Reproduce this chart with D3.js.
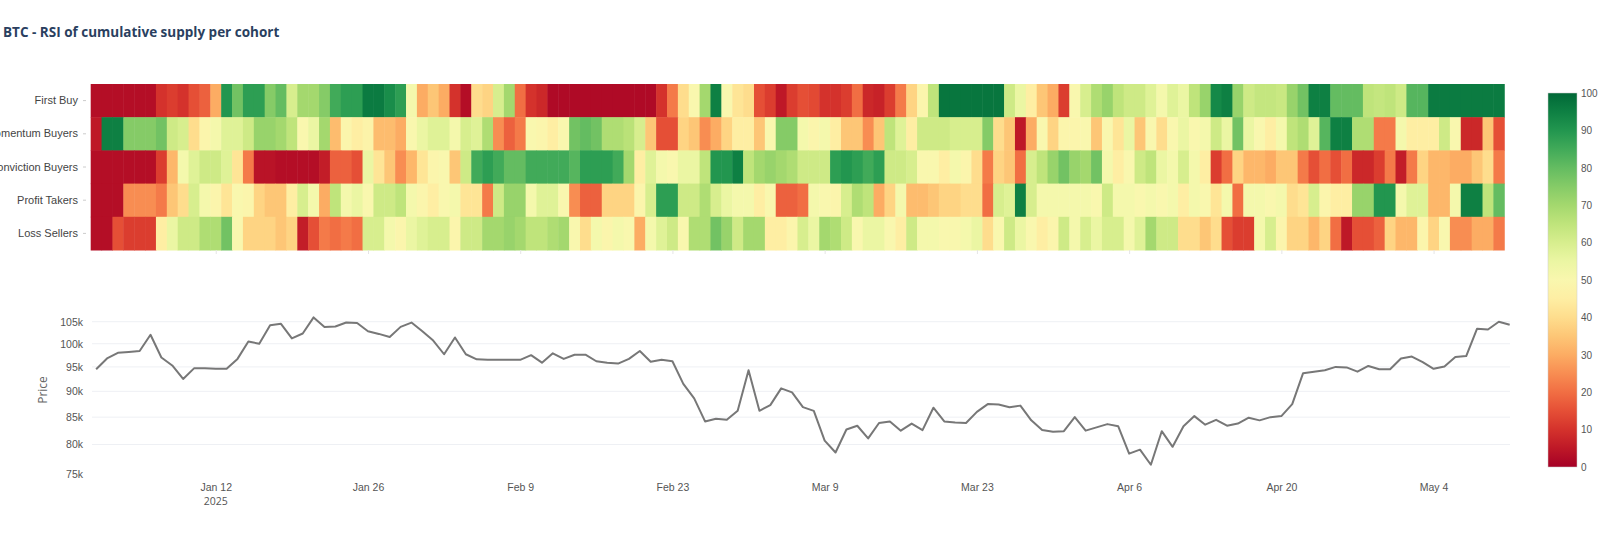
<!DOCTYPE html>
<html>
<head>
<meta charset="utf-8">
<script src="https://cdn.jsdelivr.net/npm/d3@7"></script>
<style>
  body { margin: 0; background: #fff; font-family: "Open Sans", "Liberation Sans", sans-serif; }
  svg text { fill: #555; }
</style>
</head>
<body>
<svg id="chart" width="1600" height="545"></svg>
<script>
// cohorts (top to bottom)
const cohorts = ['First Buy', 'Momentum Buyers', 'Conviction Buyers', 'Profit Takers', 'Loss Sellers'];

// RSI per cohort, one value per day from Jan 1 2025
const firstBuy = [3,3,3,3,3,3,10,12,10,15,18,30,90,78,88,88,75,80,60,70,70,75,85,88,88,96,96,92,88,52,30,35,
  30,10,3,40,38,60,70,20,10,8,2,2,2,2,2,2,2,2,2,2,10,22,40,50,70,95,50,42,40,15,12,5,12,
  15,14,10,10,12,20,8,7,12,22,38,48,65,97,97,97,97,97,97,62,55,45,35,30,12,50,60,68,72,65,62,62,
  58,52,58,55,65,72,93,95,72,62,64,64,63,72,78,95,95,80,80,80,65,64,65,62,82,82,96,
  96,96,96,96,96,96];
const momentumBuyers = [5,95,95,75,75,75,78,62,60,40,48,52,58,58,62,72,72,70,65,50,55,70,33,48,45,47,33,33,30,50,55,58,
  58,52,60,58,68,25,18,22,50,48,45,50,78,80,78,68,68,66,60,35,15,15,38,35,25,30,38,45,45,35,50,75,75,
  52,48,52,45,35,35,25,35,65,58,45,62,62,62,60,60,60,75,40,35,5,30,50,38,48,48,50,35,50,42,55,35,
  50,40,50,55,50,52,62,55,78,55,50,45,52,65,68,58,82,95,95,68,68,22,22,52,45,45,45,
  62,50,8,8,35,15];
const convictionBuyers = [3,3,3,3,3,3,12,32,52,58,62,62,58,42,22,4,4,3,3,3,3,6,18,18,15,55,42,35,25,32,42,48,
  50,35,62,85,88,85,80,80,85,85,85,85,82,88,88,88,85,70,45,58,52,50,55,55,65,90,90,95,65,70,72,70,68,
  62,62,62,88,90,88,85,88,62,62,60,50,50,45,52,48,40,22,38,35,20,60,65,72,78,72,70,78,52,45,50,62,
  65,55,52,60,52,45,12,20,38,32,32,30,35,35,22,15,20,15,20,8,8,12,22,6,22,38,32,
  32,30,30,35,40,22];
const profitTakers = [3,3,3,25,25,25,22,35,40,60,52,48,42,50,48,38,35,35,45,60,52,30,65,52,55,50,62,62,65,52,48,45,
  50,52,42,42,22,62,72,72,52,58,58,50,25,18,18,38,38,38,48,60,88,88,62,62,68,60,55,52,52,45,50,18,18,
  20,52,50,48,60,68,65,30,38,52,33,33,35,38,38,40,40,20,60,58,95,60,52,52,52,52,52,50,62,52,52,50,
  52,50,52,45,52,50,42,52,20,52,52,50,52,40,42,60,48,45,45,72,72,90,90,52,58,58,32,
  32,52,95,95,65,80];
const lossSellers = [3,3,15,12,12,12,45,55,62,62,68,68,78,50,38,38,38,35,38,6,15,22,20,22,20,60,60,52,48,55,58,60,
  60,48,62,62,70,70,72,70,65,65,68,70,50,40,52,48,52,50,30,52,58,62,50,68,68,78,72,62,70,70,45,45,48,
  60,55,70,68,62,50,55,55,50,45,62,52,52,50,50,52,55,40,50,62,55,50,45,48,62,52,60,55,60,60,52,58,
  70,62,62,40,40,35,40,15,12,12,52,60,48,38,38,32,38,20,5,15,15,18,38,32,32,48,38,
  50,25,25,30,30,22];

// BTC price (k USD), daily from Jan 1 2025
const price = [94.5,96.8,98,98.2,98.4,102,97,95.3,92.5,94.7,94.7,94.6,94.6,96.7,100.5,100,104.2,104.5,101.2,102.3,
  106,103.8,103.9,104.8,104.7,102.8,102.2,101.5,103.8,104.8,102.8,100.7,97.7,101.4,97.7,96.6,
  96.5,96.5,96.5,96.5,97.5,95.9,97.9,96.7,97.6,97.6,96.2,95.9,95.7,96.7,98.4,96.1,96.5,96.2,
  91.5,88.6,84.2,84.7,84.5,86.2,94.3,86.2,87.3,90.6,89.8,86.9,86.2,80.7,78.6,82.7,83.4,81.1,
  83.9,84.2,82.5,83.8,82.6,86.8,84.2,84.0,83.9,86.0,87.5,87.4,86.9,87.2,84.4,82.6,82.3,82.4,
  85,82.5,83.1,83.7,83.3,78.4,79.1,76.5,82.4,79.6,83.3,85.2,83.6,84.5,83.4,83.8,84.9,84.4,
  85,85.2,87.5,93.7,94,94.3,95,94.9,94,95.2,94.5,94.5,96.8,97.2,96,94.6,95.1,97.1,97.3,
  103.4,103.2,105,104.3];

const priceTicks = [75, 80, 85, 90, 95, 100, 105];
const dateTicks = ['2025-01-12', '2025-01-26', '2025-02-09', '2025-02-23', '2025-03-09', '2025-03-23', '2025-04-06', '2025-04-20', '2025-05-04'];
const rsiTicks = [0, 10, 20, 30, 40, 50, 60, 70, 80, 90, 100];

const rows = [firstBuy, momentumBuyers, convictionBuyers, profitTakers, lossSellers];
const start = new Date(2025, 0, 1);
const day = i => d3.timeDay.offset(start, i);

const svg = d3.select('#chart');

svg.append('text')
  .attr('x', 3).attr('y', 37)
  .style('font-size', '13.5px').style('font-weight', '700')
  .style('fill', '#2a3f5f')
  .text('BTC - RSI of cumulative supply per cohort');

// shared x (days)
const x = d3.scaleTime()
  .domain([d3.timeHour.offset(start, -12), day(130)])
  .range([90.7, 1509.7]);

const color = v => d3.interpolateRdYlGn(v / 100);

// heatmap
const hmTop = 84, hmBottom = 250;
const yRow = d3.scaleBand().domain(cohorts).range([hmTop, hmBottom]);

const hm = svg.append('g');
rows.forEach((vals, r) => {
  hm.selectAll(null)
    .data(vals)
    .enter()
    .append('rect')
    .attr('x', (d, i) => x(d3.timeHour.offset(day(i), -12)))
    .attr('width', (d, i) => x(d3.timeHour.offset(day(i), 12)) - x(d3.timeHour.offset(day(i), -12)) + 0.5)
    .attr('y', yRow(cohorts[r]))
    .attr('height', yRow.bandwidth() + 0.5)
    .attr('fill', d => color(d));
});

const yRowAxis = svg.append('g')
  .attr('transform', 'translate(86,0)')
  .call(d3.axisLeft(yRow).tickSize(3).tickPadding(5));
yRowAxis.select('.domain').remove();
yRowAxis.selectAll('line').attr('stroke', '#ccc');
yRowAxis.selectAll('text').style('font-size', '11px').style('fill', '#444');

const hmX = svg.append('g')
  .attr('transform', `translate(0,${hmBottom})`)
  .call(d3.axisBottom(x).tickValues(dateTicks.map(d => new Date(d + 'T00:00'))).tickSize(4).tickFormat(''));
hmX.select('.domain').remove();
hmX.selectAll('line').attr('stroke', '#e5e5e5');

// price line (log scale)
const y = d3.scaleLog().domain([75, 105]).range([473.7, 321.7]);

const grid = svg.append('g');
grid.selectAll('line')
  .data(priceTicks.filter(t => t > 75))
  .enter()
  .append('line')
  .attr('x1', 92).attr('x2', 1510)
  .attr('y1', d => y(d)).attr('y2', d => y(d))
  .attr('stroke', '#eef0f4').attr('stroke-width', 1);

const yAxis = svg.append('g')
  .attr('transform', 'translate(86,0)')
  .call(d3.axisLeft(y).tickValues(priceTicks).tickSize(0).tickPadding(3).tickFormat(d => d + 'k'));
yAxis.select('.domain').remove();
yAxis.selectAll('text').style('font-size', '10.5px').style('fill', '#555');

svg.append('text')
  .attr('transform', 'translate(47,390) rotate(-90)')
  .style('text-anchor', 'middle')
  .style('font-size', '12px').style('fill', '#666')
  .text('Price');

svg.append('path')
  .datum(price)
  .attr('fill', 'none')
  .attr('stroke', '#777')
  .attr('stroke-width', 2)
  .attr('stroke-linejoin', 'round')
  .attr('d', d3.line().x((d, i) => x(day(i))).y(d => y(d)));

const xAxis = svg.append('g')
  .attr('transform', 'translate(0,478)')
  .call(d3.axisBottom(x)
    .tickValues(dateTicks.map(d => new Date(d + 'T00:00')))
    .tickSize(0).tickPadding(6)
    .tickFormat(d3.timeFormat('%b %-d')));
xAxis.select('.domain').remove();
xAxis.selectAll('text').style('font-size', '10.5px').style('fill', '#555');

svg.append('text')
  .attr('x', x(new Date(2025, 0, 12))).attr('y', 505)
  .style('text-anchor', 'middle')
  .style('font-size', '10.5px').style('fill', '#555')
  .text('2025');

// colour bar
const cb = { x: 1548, w: 29, top: 93, bottom: 467 };
const defs = svg.append('defs');
const grad = defs.append('linearGradient')
  .attr('id', 'rsi-grad')
  .attr('x1', 0).attr('x2', 0).attr('y1', 1).attr('y2', 0);
d3.range(0, 101, 5).forEach(v => {
  grad.append('stop').attr('offset', v + '%').attr('stop-color', color(v));
});
svg.append('rect')
  .attr('x', cb.x).attr('y', cb.top)
  .attr('width', cb.w).attr('height', cb.bottom - cb.top)
  .attr('fill', 'url(#rsi-grad)')
  .attr('stroke', '#ccc').attr('stroke-width', 0.5);

const yCb = d3.scaleLinear().domain([0, 100]).range([cb.bottom, cb.top]);
const cbAxis = svg.append('g')
  .attr('transform', `translate(${cb.x + cb.w},0)`)
  .call(d3.axisRight(yCb).tickValues(rsiTicks).tickSize(0).tickPadding(4));
cbAxis.select('.domain').remove();
cbAxis.selectAll('text').style('font-size', '10px').style('fill', '#555');
</script>
</body>
</html>
